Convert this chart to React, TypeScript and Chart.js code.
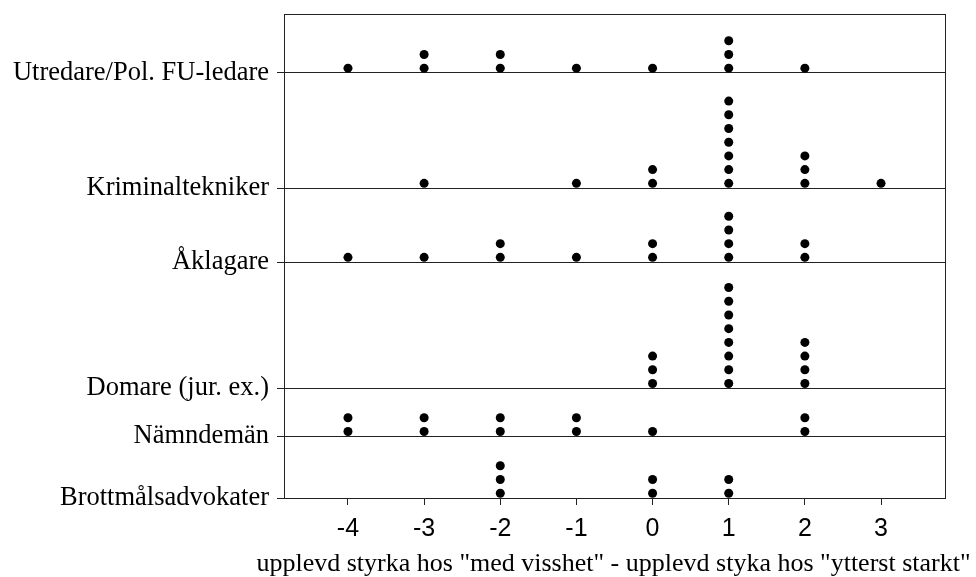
import React, { useEffect, useRef } from "react";
import { Chart, registerables } from "chart.js";

Chart.register(...registerables);

// x categories (difference scores)
const xValues = [-4, -3, -2, -1, 0, 1, 2, 3];

// y categories, top to bottom
const categories = [
  "Utredare/Pol. FU-ledare",
  "Kriminaltekniker",
  "Åklagare",
  "Domare (jur. ex.)",
  "Nämndemän",
  "Brottmålsadvokater",
];

// baseline position of each category on the y scale (in dot-stack units)
const baselines = [31.0, 22.6, 17.2, 8.0, 4.5, 0];

// number of respondents at each x value, per category
const countsUtredare = [1, 2, 2, 1, 1, 3, 1, 0];
const countsKriminal = [0, 1, 0, 1, 2, 7, 3, 1];
const countsAklagare = [1, 1, 2, 1, 2, 4, 2, 0];
const countsDomare = [0, 0, 0, 0, 3, 8, 4, 0];
const countsNamndeman = [2, 2, 2, 2, 1, 0, 2, 0];
const countsAdvokater = [0, 0, 3, 0, 2, 2, 0, 0];

const allCounts = [
  countsUtredare,
  countsKriminal,
  countsAklagare,
  countsDomare,
  countsNamndeman,
  countsAdvokater,
];

const xTitle = 'upplevd styrka hos "med visshet" - upplevd styka hos "ytterst starkt"';

const DOT_OFFSET = 0.35;
const DOT_STEP = 1;
const SERIF = "'Liberation Serif', 'Times New Roman', serif";

const framePlugin = {
  id: "frame",
  beforeDatasetsDraw(chart: any) {
    const { ctx, chartArea } = chart;
    ctx.save();
    ctx.strokeStyle = "#222";
    ctx.lineWidth = 1;
    ctx.strokeRect(
      Math.round(chartArea.left) + 0.5,
      Math.round(chartArea.top) + 0.5,
      Math.round(chartArea.right - chartArea.left),
      Math.round(chartArea.bottom - chartArea.top)
    );
    ctx.restore();
  },
  afterDraw(chart: any) {
    // x-axis title, drawn without Chart.js's width compression
    const { ctx, chartArea } = chart;
    const xs = chart.scales.x;
    ctx.save();
    ctx.fillStyle = "#000";
    ctx.font = `26px ${SERIF}`;
    ctx.textAlign = "center";
    ctx.textBaseline = "middle";
    ctx.fillText(xTitle, (chartArea.left + chartArea.right) / 2 - 1, xs.bottom - 13);
    ctx.restore();
  },
};

export default function App() {
  const ref = useRef<HTMLCanvasElement | null>(null);

  useEffect(() => {
    document.body.style.margin = "0";
    const points: { x: number; y: number }[] = [];
    allCounts.forEach((counts, i) => {
      counts.forEach((c, j) => {
        for (let k = 0; k < c; k++) {
          points.push({ x: xValues[j], y: baselines[i] + DOT_OFFSET + k * DOT_STEP });
        }
      });
    });

    const chart = new Chart(ref.current!, {
      type: "scatter",
      data: {
        datasets: [
          {
            data: points,
            backgroundColor: "#000",
            borderWidth: 0,
            pointRadius: 4.5,
            pointHoverRadius: 4.5,
          },
        ],
      },
      options: {
        responsive: false,
        animation: false,
        layout: { padding: { top: 14, right: 31, left: 0, bottom: 0 } },
        plugins: {
          legend: { display: false },
          tooltip: { enabled: false },
        },
        scales: {
          x: {
            type: "linear",
            min: -4.84,
            max: 3.84,
            afterBuildTicks: (axis: any) => {
              axis.ticks = xValues.map((v) => ({ value: v }));
            },
            afterFit: (scale: any) => {
              scale.height = 79;
              scale.paddingLeft = 0;
              scale.paddingRight = 0;
            },
            ticks: {
              color: "#000",
              padding: 9,
              font: { family: "'Liberation Sans', Arial, sans-serif", size: 25 },
              callback: (v: any) => String(v),
            },
            grid: {
              drawOnChartArea: false,
              drawTicks: true,
              tickLength: 7,
              color: "#222",
            },
            border: { display: true, color: "#222" },
            title: { display: false },
          },
          y: {
            type: "linear",
            min: 0,
            max: 35.3,
            afterBuildTicks: (axis: any) => {
              axis.ticks = baselines.map((v) => ({ value: v }));
            },
            afterFit: (scale: any) => {
              scale.width = 284;
              scale.paddingTop = 0;
              scale.paddingBottom = 0;
            },
            ticks: {
              color: "#000",
              padding: 8,
              font: { family: SERIF, size: 26.5 },
              callback: (v: any) => {
                const idx = baselines.indexOf(v);
                return idx >= 0 ? categories[idx] : "";
              },
            },
            grid: {
              drawOnChartArea: true,
              drawTicks: true,
              tickLength: 7,
              color: "#222",
            },
            border: { display: true, color: "#222" },
          },
        },
      },
      plugins: [framePlugin],
    });
    return () => chart.destroy();
  }, []);

  return (
    <div style={{ width: 976, height: 577 }}>
      <canvas ref={ref} width={976} height={577} />
    </div>
  );
}
